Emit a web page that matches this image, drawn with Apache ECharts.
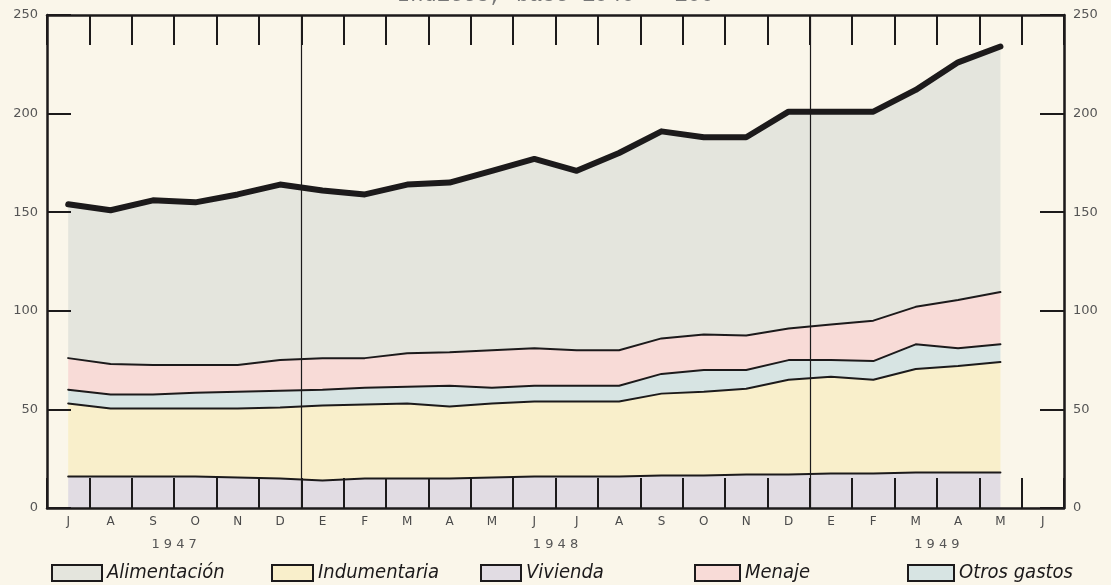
<!DOCTYPE html>
<html>
<head>
<meta charset="utf-8">
<style>
  html, body { margin: 0; padding: 0; background: #faf6ea; }
  #chart { width: 1111px; height: 585px; }
</style>
<script src="https://cdn.jsdelivr.net/npm/echarts@6/dist/echarts.min.js"></script>
</head>
<body>
<div id="chart"></div>
<script>
// months from July 1947 to June 1949
const months = ['J','A','S','O','N','D','E','F','M','A','M','J','J','A','S','O','N','D','E','F','M','A','M','J'];
const years = ['1 9 4 7', '1 9 4 8', '1 9 4 9'];
const yearAt = [2.5, 11.5, 20.5]; // year label sits between these months
const yearBreaks = [6, 18];       // vertical line before January

// stacked components (index, base 1940 = 100)
const vivienda     = [16, 16, 16, 16, 15.5, 15, 14, 15, 15, 15, 15.5, 16, 16, 16, 16.5, 16.5, 17, 17, 17.5, 17.5, 18, 18, 18, '-'];
const indumentaria = [37, 34.5, 34.5, 34.5, 35, 36, 38, 37.5, 38, 36.5, 37.5, 38, 38, 38, 41.5, 42.5, 43.5, 48, 49, 47.5, 52.5, 54, 56, '-'];
const otrosGastos  = [7, 7, 7, 8, 8.5, 8.5, 8, 8.5, 8.5, 10.5, 8, 8, 8, 8, 10, 11, 9.5, 10, 8.5, 9.5, 12.5, 9, 9, '-'];
const menaje       = [16, 15.5, 15, 14, 13.5, 15.5, 16, 15, 17, 17, 19, 19, 18, 18, 18, 18, 17.5, 16, 18, 20.5, 19, 24.5, 26.5, '-'];
const alimentacion = [78, 78, 83.5, 82.5, 86.5, 89, 85, 83, 85.5, 86, 91, 96, 91, 100, 105, 100, 100.5, 110, 108, 106, 110, 120.5, 124.5, '-'];

const ink = '#1c1a1b';
const fills = {
  'Alimentación': '#e4e5dd',
  'Indumentaria': '#f9efcb',
  'Vivienda': '#e1dce3',
  'Menaje': '#f8dbd7',
  'Otros gastos': '#d7e4e3'
};

const chart = echarts.init(document.getElementById('chart'));

function band(name, data, z, width) {
  return {
    name: name,
    type: 'line',
    stack: 'total',
    z: z,
    symbol: 'none',
    data: data,
    lineStyle: { color: ink, width: width || 2, cap: 'round', join: 'round' },
    areaStyle: { color: fills[name], opacity: 1 },
    emphasis: { disabled: true }
  };
}

function legendAt(name, left, w) {
  return {
    data: [name],
    left: left,
    top: 558,
    icon: 'rect',
    itemWidth: w,
    itemHeight: 16,
    selectedMode: false,
    itemStyle: { color: fills[name], borderColor: ink, borderWidth: 2 },
    textStyle: {
      fontFamily: 'DejaVu Sans Condensed',
      fontStyle: 'italic',
      fontSize: 20,
      color: ink
    }
  };
}

const axisLabelStyle = { fontFamily: 'DejaVu Sans', fontSize: 13, color: '#555' };
const monthTicks = { show: true, inside: true, length: 30, interval: 0, alignWithLabel: false, lineStyle: { color: ink, width: 2 } };

chart.setOption({
  backgroundColor: '#faf6ea',
  animation: false,
  title: {
    text: 'Indices, base 1940 = 100',
    left: 'center',
    top: -21,
    textStyle: { fontFamily: 'Liberation Mono', fontWeight: 'normal', fontSize: 22, color: '#777' }
  },
  grid: { left: 47, right: 47, top: 15, bottom: 77 },
  legend: [
    legendAt('Alimentación', 46, 50),
    legendAt('Indumentaria', 266, 41),
    legendAt('Vivienda', 475, 40),
    legendAt('Menaje', 689, 45),
    legendAt('Otros gastos', 902, 46)
  ],
  xAxis: [
    {
      type: 'category',
      data: months,
      boundaryGap: true,
      position: 'bottom',
      z: 10,
      axisLine: { show: true, onZero: false, lineStyle: { color: ink, width: 2.5 } },
      axisTick: monthTicks,
      axisLabel: { interval: 0, margin: 8, fontFamily: 'DejaVu Sans', fontSize: 12, color: '#4a4a4a' },
      splitLine: {
        show: true,
        interval: function (i) { return yearBreaks.indexOf(i) >= 0; },
        lineStyle: { color: ink, width: 1.2 }
      }
    },
    {
      type: 'category',
      data: months,
      boundaryGap: true,
      position: 'top',
      z: 10,
      axisLine: { show: true, onZero: false, lineStyle: { color: ink, width: 2.5 } },
      axisTick: monthTicks,
      axisLabel: { show: false },
      splitLine: { show: false }
    }
  ],
  yAxis: [
    {
      type: 'value',
      position: 'left',
      min: 0, max: 250, interval: 50,
      z: 10,
      axisLine: { show: true, lineStyle: { color: ink, width: 2.5 } },
      axisTick: { show: true, inside: true, length: 24, lineStyle: { color: ink, width: 2 } },
      axisLabel: Object.assign({ margin: 9 }, axisLabelStyle),
      splitLine: { show: false }
    },
    {
      type: 'value',
      position: 'right',
      min: 0, max: 250, interval: 50,
      z: 10,
      axisLine: { show: true, lineStyle: { color: ink, width: 2.5 } },
      axisTick: { show: true, inside: true, length: 24, lineStyle: { color: ink, width: 2 } },
      axisLabel: Object.assign({ margin: 9 }, axisLabelStyle),
      splitLine: { show: false }
    }
  ],
  series: [
    band('Vivienda', vivienda, 7),
    band('Indumentaria', indumentaria, 6),
    band('Otros gastos', otrosGastos, 5),
    band('Menaje', menaje, 4),
    band('Alimentación', alimentacion, 3, 6)
  ]
});

// year labels centred between two month slots
const yearX = yearAt.map(function (p) {
  const a = chart.convertToPixel({ xAxisIndex: 0 }, Math.floor(p));
  const b = chart.convertToPixel({ xAxisIndex: 0 }, Math.ceil(p));
  return (a + b) / 2;
});
chart.setOption({
  graphic: years.map(function (t, i) {
    return {
      type: 'text',
      x: yearX[i],
      y: 545,
      z: 20,
      style: {
        text: t,
        align: 'center',
        verticalAlign: 'middle',
        fontFamily: 'DejaVu Sans',
        fontSize: 13,
        fill: '#555'
      }
    };
  })
});
</script>
</body>
</html>
